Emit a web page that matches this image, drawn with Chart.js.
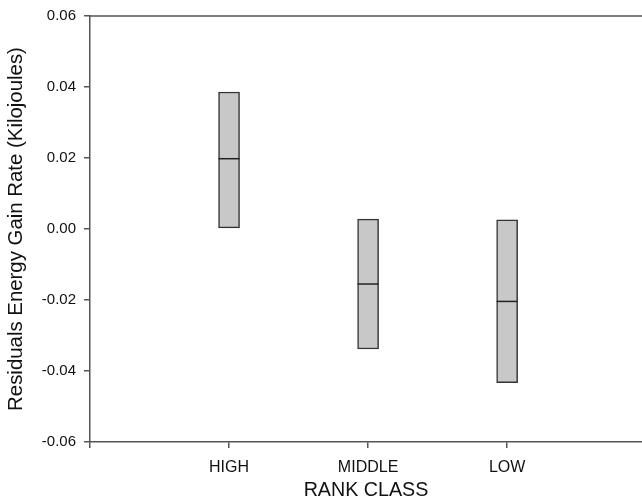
<!DOCTYPE html>
<html>
<head>
<meta charset="utf-8">
<script src="https://cdn.jsdelivr.net/npm/chart.js@4"></script>
<style>
html,body{margin:0;padding:0;background:#fff;overflow:hidden;}
canvas{display:block;}
</style>
</head>
<body>
<canvas id="c" width="642" height="503"></canvas>
<script>
const categories = ['HIGH', 'MIDDLE', 'LOW'];
const boxLow = [0.0003, -0.0338, -0.0433];
const boxHigh = [0.0386, 0.0028, 0.0026];
const medians = [0.0198, -0.0155, -0.0204];
const yTicks = [-0.06, -0.04, -0.02, 0.00, 0.02, 0.04, 0.06];

const axisColor = '#555';
const textColor = '#111';
const fontFam = '"Liberation Sans", Arial, Helvetica, sans-serif';

const topBorder = {
  id: 'topBorder',
  afterDraw(chart) {
    const a = chart.chartArea, ctx = chart.ctx;
    ctx.save();
    ctx.strokeStyle = axisColor;
    ctx.lineWidth = 1.5;
    ctx.beginPath();
    ctx.moveTo(a.left, a.top);
    ctx.lineTo(a.right, a.top);
    ctx.stroke();
    ctx.restore();
  }
};

new Chart(document.getElementById('c'), {
  data: {
    datasets: [
      {
        type: 'bar',
        data: categories.map((c, i) => ({x: i + 1, y: [boxLow[i], boxHigh[i]]})),
        backgroundColor: '#c8c8c8',
        borderColor: '#333',
        borderWidth: 1.5,
        borderSkipped: false,
        barThickness: 21,
        order: 2
      },
      {
        type: 'line',
        data: categories.map((c, i) => ({x: i + 1, y: medians[i]})),
        showLine: false,
        pointStyle: 'line',
        pointRadius: 10.5,
        pointHoverRadius: 10.5,
        pointBorderWidth: 1.5,
        borderColor: '#222',
        order: 1
      }
    ]
  },
  options: {
    responsive: false,
    animation: false,
    layout: {autoPadding: false, padding: {top: 16, right: 0, bottom: 0, left: 0}},
    plugins: {legend: {display: false}, tooltip: {enabled: false}},
    scales: {
      x: {
        type: 'linear',
        offset: false,
        min: 0,
        max: 3.97,
        afterBuildTicks: s => { s.ticks = [0, 1, 2, 3].map(v => ({value: v})); },
        afterFit: s => { s.height = 61; s.paddingLeft = 0; s.paddingRight = 0; },
        ticks: {
          autoSkip: false,
          maxRotation: 0,
          padding: 10,
          color: textColor,
          font: {family: fontFam, size: 16},
          callback: v => (v >= 1 && v <= categories.length) ? categories[v - 1] : ''
        },
        grid: {offset: false, drawOnChartArea: false, tickLength: 6, color: axisColor, lineWidth: 1.5},
        border: {color: axisColor, width: 1.5},
        title: {display: true, text: 'RANK CLASS', color: textColor, font: {family: fontFam, size: 19.7}, padding: {top: 0, bottom: 0.5}}
      },
      y: {
        min: -0.06,
        max: 0.06,
        afterBuildTicks: s => { s.ticks = yTicks.map(v => ({value: v})); },
        afterFit: s => { s.width = 90; s.paddingTop = 0; s.paddingBottom = 0; },
        ticks: {
          padding: 8,
          color: textColor,
          font: {family: fontFam, size: 15},
          callback: v => (Math.abs(v) < 1e-9 ? 0 : v).toFixed(2)
        },
        grid: {drawOnChartArea: false, tickLength: 6, color: axisColor, lineWidth: 1.5},
        border: {color: axisColor, width: 1.5},
        title: {display: true, text: 'Residuals Energy Gain Rate (Kilojoules)', color: textColor, font: {family: fontFam, size: 20.4}, padding: {top: 4.5, bottom: 0}}
      }
    }
  },
  plugins: [topBorder]
});
</script>
</body>
</html>
